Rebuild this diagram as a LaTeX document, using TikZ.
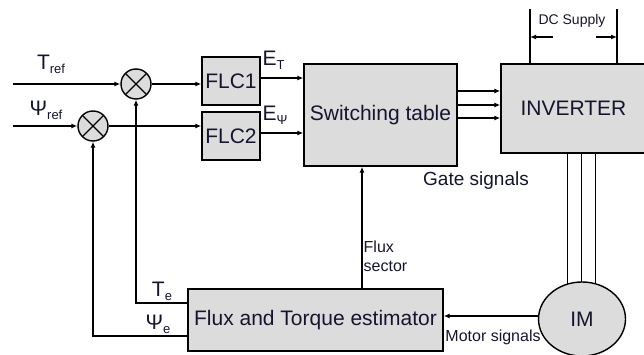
\documentclass[tikz,border=0pt]{standalone}
\usepackage{fontspec}
\setmainfont{Liberation Sans}
\usetikzlibrary{arrows.meta,shapes.geometric,backgrounds}
\definecolor{boxgray}{HTML}{DCDCDC}
\definecolor{txt}{HTML}{15152E}
\newcommand\mysub[1]{\raisebox{-4pt}{\fontsize{13}{13}\selectfont #1}}
\begin{document}
\begin{tikzpicture}[x=1pt,y=-1pt,
  line width=1.4pt,
  blk/.style={draw, fill=boxgray, inner sep=0pt, text=txt, font=\fontsize{21}{21}\selectfont},
  sumj/.style={draw, circle, fill=boxgray, minimum size=30pt, inner sep=0pt,
    path picture={\draw[line width=1.4pt] (path picture bounding box.north west) -- (path picture bounding box.south east)
      (path picture bounding box.north east) -- (path picture bounding box.south west);}},
  arr/.style={-{Latex[length=6pt,width=5pt]}},
  lbl/.style={inner sep=0pt, text=txt, font=\fontsize{21}{21}\selectfont},
  small/.style={inner sep=0pt, text=txt}]
\useasboundingbox (0,0) rectangle (644,355);
\clip (0,0) rectangle (644,355);

% blocks
\node[blk, minimum width=58pt, minimum height=48pt] (flc1) at (231,81) {FLC1};
\node[blk, minimum width=58pt, minimum height=48pt] (flc2) at (231,136) {FLC2};
\node[blk, minimum width=153pt, minimum height=102pt] (sw) at (380.5,115) {Switching table};
\node[blk, minimum width=145pt, minimum height=89pt] (inv) at (573.5,108.5) {INVERTER};
\node[blk, minimum width=255pt, minimum height=62pt] (est) at (315.5,320) {Flux and Torque estimator};
\node[blk, ellipse, minimum width=87pt, minimum height=74pt] (im) at (582,319) {IM};
\node[sumj] (s1) at (136,84) {};
\node[sumj] (s2) at (93,126) {};

% inputs
\coordinate (tin) at (13,84);
\coordinate (pin) at (13,126);
\draw[arr] (tin) -- (s1);
\draw[arr] (pin) -- (s2);
\draw[arr] (s1) -- (flc1.west |- s1);
\draw[arr] (s2) -- (flc2.west |- s2);
\draw[arr] (flc1.east |- 0,78) -- (sw.west |- 0,78);
\draw[arr] (flc2.east |- 0,133) -- (sw.west |- 0,133);

% gate signals
\foreach \yy in {91,105,118}
  \draw[arr] (sw.east |- 0,\yy) -- (inv.west |- 0,\yy);

% inverter to motor
\begin{scope}[on background layer]
\foreach \xx in {567,581,595}
  \draw (inv.south -| \xx,0) -- (im.center -| \xx,0);
\end{scope}

% DC supply
\coordinate (dc1) at (530,9);
\coordinate (dc2) at (617,9);
\draw (dc1) -- (inv.north -| dc1);
\draw (dc2) -- (inv.north -| dc2);
\coordinate (da1) at (553,37);
\coordinate (da2) at (596,37);
\draw[arr] (da1) -- (dc1 |- da1);
\draw[arr] (da2) -- (dc2 |- da2);

% motor signals
\draw[arr] (im.west |- 0,316) -- (est.east |- 0,316);
% flux sector
\draw[arr] (est.north -| 362,0) -- (sw.south -| 362,0);
% feedback
\draw[arr] (est.west |- 0,303) -| (s1.south);
\draw[arr] (est.west |- 0,336) -| (s2.south);

% labels
\node[lbl] (ltref) at (51,64) {T\mysub{ref}};
\node[lbl] (lpref) at (46,110) {Ψ\mysub{ref}};
\node[lbl, anchor=west] (let) at (262,60) {E\mysub{T}};
\node[lbl, anchor=west] (lep) at (262,115) {E\mysub{Ψ}};
\node[lbl] (lte) at (162,291) {T\mysub{e}};
\node[lbl] (lpe) at (158,324) {Ψ\mysub{e}};
\node[small, font=\fontsize{19}{19}\selectfont] (lgate) at (476,181) {Gate signals};
\node[small, font=\fontsize{14}{14}\selectfont] (ldc) at (572,21) {DC Supply};
\node[small, anchor=west, align=left, font=\fontsize{16}{19}\selectfont] (lflux) at (363,256) {Flux\\sector};
\node[small, font=\fontsize{16}{16}\selectfont] (lmot) at (493,337) {Motor signals};
\end{tikzpicture}
\end{document}
